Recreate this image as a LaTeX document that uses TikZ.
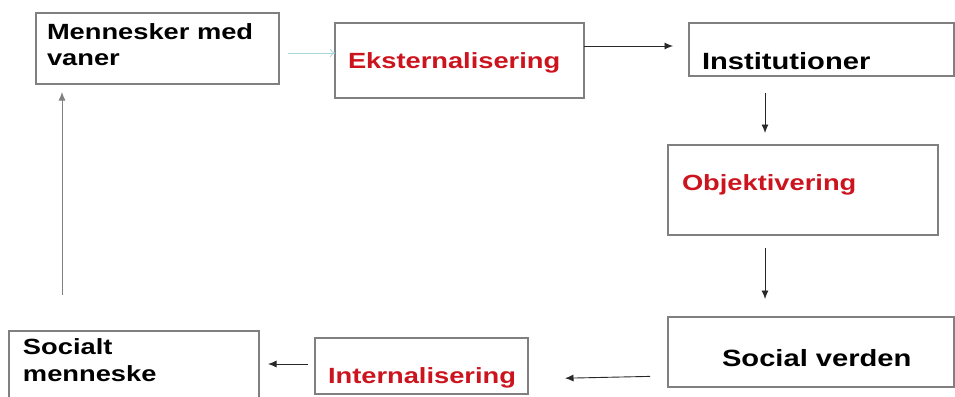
\documentclass[tikz,border=0pt]{standalone}
\usepackage{fontspec}
\setmainfont[FakeStretch=1.24]{Liberation Sans}
\usetikzlibrary{arrows.meta}
\definecolor{boxgray}{RGB}{128,128,128}
\definecolor{redtxt}{RGB}{204,20,30}
\definecolor{cyanarr}{RGB}{170,215,222}
\definecolor{arrgray}{RGB}{40,40,40}
\begin{document}
\begin{tikzpicture}[x=1pt,y=-1pt,
  box/.style={draw=boxgray,line width=1.1pt,inner sep=0pt,outer sep=0pt},
  lbl/.style={inner sep=0pt,outer sep=0pt,font=\fontsize{22}{26}\selectfont\bfseries},
  biglbl/.style={inner sep=0pt,outer sep=0pt,font=\fontsize{23.5}{27}\selectfont\bfseries},
  redlbl/.style={lbl,text=redtxt},
  arr/.style={draw=arrgray,line width=0.9pt,-{Latex[length=8.5pt,width=7pt]}},
  cyarr/.style={draw=cyanarr,line width=0.9pt,-{To[length=5pt,width=8pt]}}
]
\useasboundingbox (0,0) rectangle (955,396);
\clip (0,0) rectangle (955,396);
% boxes
\node[box,minimum width=243pt,minimum height=71pt] (A) at (157.5,48.5) {};
\node[box,minimum width=249pt,minimum height=75pt] (B) at (459.5,60.5) {};
\node[box,minimum width=265pt,minimum height=53pt] (C) at (821.5,49.5) {};
\node[box,minimum width=270pt,minimum height=90pt] (D) at (803,190) {};
\node[box,minimum width=286pt,minimum height=70pt] (E) at (811,352) {};
\node[box,minimum width=213pt,minimum height=56pt] (F) at (421.5,366) {};
\node[box,minimum width=250pt,minimum height=72pt] (G) at (134,367) {};
% texts
\node[lbl,align=left,anchor=north west] (tA) at (47,23.5) {Mennesker med\\vaner};
\node[redlbl,anchor=base west] (tB) at (348,68) {Eksternalisering};
\node[biglbl,anchor=base west] (tC) at (702,70) {Institutioner};
\node[redlbl,anchor=base west] (tD) at (682,190) {Objektivering};
\node[biglbl,anchor=base west] (tE) at (722,366) {Social verden};
\node[redlbl,anchor=base west] (tF) at (328,383) {Internalisering};
\node[lbl,align=left,anchor=north west,font=\fontsize{22}{27}\selectfont\bfseries] (tG) at (23,339) {Socialt\\menneske};
% connectors
\draw[cyarr,shorten <=9pt] (A.east |- 0,53) -- (B.west |- 0,53);
\draw[arr,shorten >=16pt] (B.east |- 0,46) -- (C.west |- 0,46);
\draw[arr,shorten <=17pt,shorten >=12pt] (C.south -| 765,0) -- (D.north -| 765,0);
\draw[arr,shorten <=13pt,shorten >=18pt] (D.south -| 765,0) -- (E.north -| 765,0);
\draw[arr,shorten <=18pt,shorten >=37pt] (E.west |- 0,376) -- (F.east |- 0,379);
\draw[arr,shorten <=7pt,shorten >=9pt] (F.west |- 0,364) -- (G.east |- 0,364);
\draw[arr,draw=boxgray,shorten <=36pt,shorten >=8pt] (G.north -| 62,0) -- (A.south -| 62,0);
\end{tikzpicture}
\end{document}
